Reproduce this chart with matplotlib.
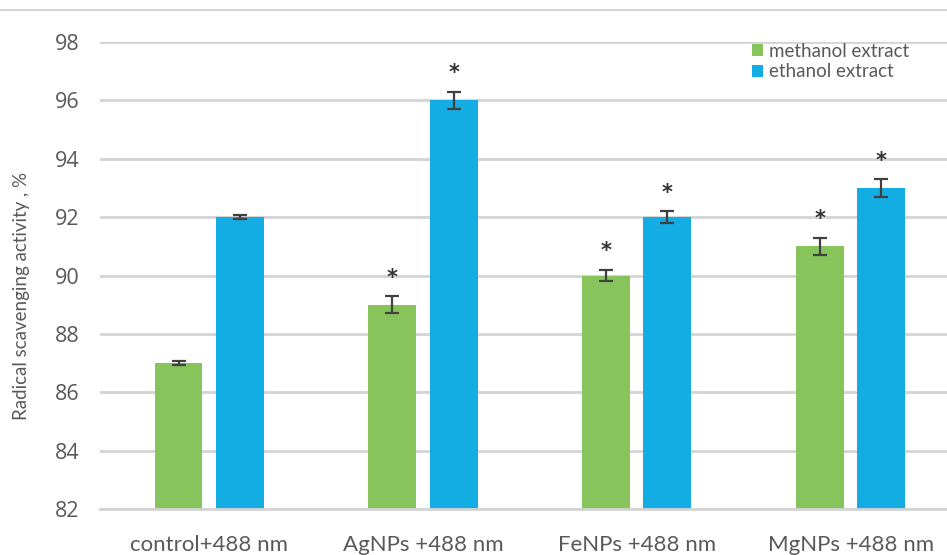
import numpy as np
import matplotlib.pyplot as plt
from matplotlib.lines import Line2D

categories = ['control+488 nm', 'AgNPs +488 nm', 'FeNPs +488 nm', 'MgNPs +488 nm']
methanol = [87.0, 89.0, 90.0, 91.0]
methanol_err = [0.08, 0.3, 0.2, 0.3]
ethanol = [92.0, 96.0, 92.0, 93.0]
ethanol_err = [0.08, 0.3, 0.2, 0.3]
methanol_sig = [False, True, True, True]
ethanol_sig = [False, True, True, True]
yticks = [82, 84, 86, 88, 90, 92, 94, 96, 98]

green = '#88C45C'
blue = '#13ACE3'
grid_c = '#d4d4d4'
text_c = '#595959'

plt.rcParams['font.family'] = ['Open Sans', 'DejaVu Sans']
label_font = ['Lato', 'DejaVu Sans']

fig = plt.figure(figsize=(9.47, 5.55), dpi=100)
ax = fig.add_axes([0.1056, 0.0829, 0.8944, 0.8414])

x = np.arange(len(categories))
w = 0.224
off = 0.143

err_kw = dict(ecolor='#404040', elinewidth=1.6, capsize=5, capthick=1.6)
ax.bar(x - off, methanol, w, color=green, yerr=methanol_err,
       error_kw=err_kw, label='methanol extract', zorder=3)
ax.bar(x + off, ethanol, w, color=blue, yerr=ethanol_err,
       error_kw=err_kw, label='ethanol extract', zorder=3)

# significance marks above the error bars
for xi, v, e, s in zip(x - off, methanol, methanol_err, methanol_sig):
    if s:
        ax.text(xi, v + e + 0.28, '*', ha='center', va='bottom',
                fontsize=15, fontweight='bold', color='#333333',
                family='DejaVu Sans')
for xi, v, e, s in zip(x + off, ethanol, ethanol_err, ethanol_sig):
    if s:
        ax.text(xi, v + e + 0.28, '*', ha='center', va='bottom',
                fontsize=15, fontweight='bold', color='#333333',
                family='DejaVu Sans')

ax.set_ylim(82, 98)
ax.set_xlim(-0.51, 3.45)
ax.set_yticks(yticks)
ax.set_xticks(x)
ax.set_xticklabels(categories, fontsize=16, color=text_c, family=label_font)
ax.tick_params(axis='y', labelsize=15.5, colors=text_c, length=0, pad=15)
ax.tick_params(axis='x', length=0, pad=19)
ax.yaxis.grid(True, color=grid_c, linewidth=2, zorder=0)
ax.set_axisbelow(True)
for s in ['top', 'right', 'left']:
    ax.spines[s].set_visible(False)
ax.spines['bottom'].set_color(grid_c)
ax.spines['bottom'].set_linewidth(2)
ax.spines['bottom'].set_zorder(4)

fig.text(0.023, 0.467, 'Radical scavenging activity , %', rotation=90,
         ha='center', va='center', fontsize=13.5, color=text_c,
         family=label_font)

leg = ax.legend(loc='upper right', bbox_to_anchor=(0.975, 1.035), frameon=False,
                prop={'family': label_font, 'size': 13.5}, labelcolor=text_c,
                handlelength=0.6, handleheight=0.6, handletextpad=0.3,
                labelspacing=0.2)

fig.add_artist(Line2D([0, 1], [1 - 10 / 555, 1 - 10 / 555],
                      transform=fig.transFigure, color='#cccccc', linewidth=1.2))

fig.savefig('out.png', dpi=100)
